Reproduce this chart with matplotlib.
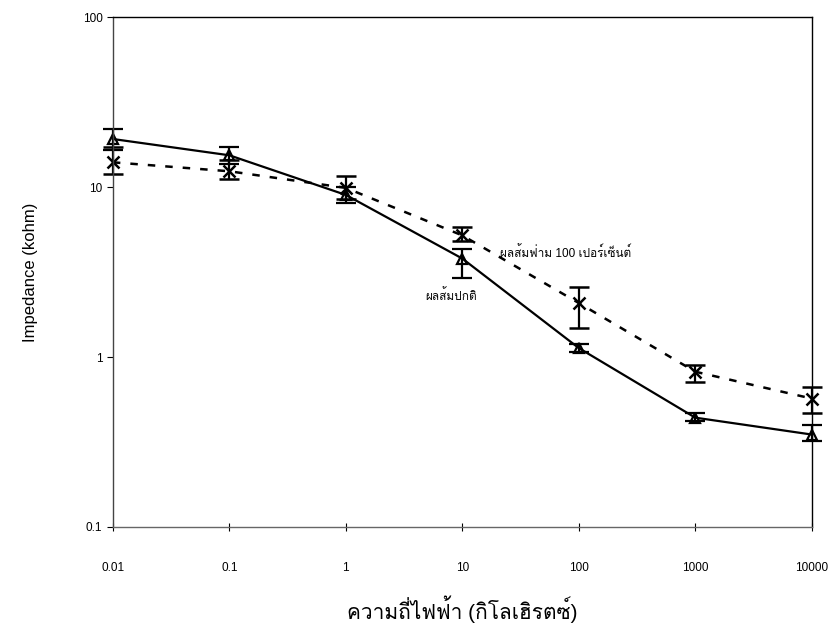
import numpy as np
import matplotlib
matplotlib.use('Agg')
import matplotlib.pyplot as plt
from matplotlib import font_manager
from matplotlib.ft2font import FT2Font

# frequency (kHz)
freq = [0.01, 0.1, 1, 10, 100, 1000, 10000]

# normal fruit
normal = [19.2, 15.4, 9.0, 3.8, 1.13, 0.44, 0.35]
normal_lo = [16.5, 13.6, 8.1, 2.9, 1.07, 0.42, 0.32]
normal_hi = [21.9, 17.2, 10.0, 4.3, 1.20, 0.47, 0.40]

# granulated fruit
gran = [14.0, 12.4, 9.9, 5.2, 2.08, 0.82, 0.57]
gran_lo = [11.9, 11.1, 8.5, 4.8, 1.48, 0.71, 0.47]
gran_hi = [17.2, 14.4, 11.6, 5.8, 2.60, 0.90, 0.67]

label_normal = 'ผลส้มปกติ'
label_gran = 'ผลส้มฟ่าม 100 เปอร์เซ็นต์'
xlabel = 'ความถี่ไฟฟ้า (กิโลเฮิรตซ์)'
ylabel = 'Impedance (kohm)'


def find_thai_font():
    # look for any installed font that has Thai glyphs
    for f in font_manager.fontManager.ttflist:
        try:
            cmap = FT2Font(f.fname).get_charmap()
        except Exception:
            continue
        if 0x0E01 in cmap and 0x0E2A in cmap:
            return f.name
    return None


thai = find_thai_font()
fams = ['DejaVu Sans'] if thai is None else ['Liberation Sans', thai, 'DejaVu Sans']
plt.rcParams['font.family'] = fams

fig = plt.figure(figsize=(8.3, 6.38), dpi=100)
ax = fig.add_axes([0.136, 0.174, 0.842, 0.799])

def err(v, lo, hi):
    v = np.array(v)
    return [v - np.array(lo), np.array(hi) - v]

for line in [
    ax.errorbar(freq, normal, yerr=err(normal, normal_lo, normal_hi), color='black',
                lw=1.6, marker='^', ms=7, mfc='none', mew=1.6, capsize=7,
                capthick=1.8, elinewidth=1.6),
    ax.errorbar(freq, gran, yerr=err(gran, gran_lo, gran_hi), color='black',
                lw=1.8, ls=(0, (3, 4)), marker='x', ms=8, mew=1.8, capsize=7,
                capthick=1.8, elinewidth=1.6),
]:
    for art in line.get_children():
        art.set_clip_on(False)

ax.set_xscale('log')
ax.set_yscale('log')
ax.set_xlim(0.01, 10000)
ax.set_ylim(0.1, 100)
ax.set_xticks(freq)
ax.set_xticklabels(['0.01', '0.1', '1', '10', '100', '1000', '10000'])
ax.set_yticks([0.1, 1, 10, 100])
ax.set_yticklabels(['0.1', '1', '10', '100'])
ax.minorticks_off()
ax.tick_params(axis='x', direction='inout', length=6, pad=22, labelsize=8.5)
ax.tick_params(axis='y', direction='out', length=4, labelsize=8.5)
for s in ax.spines.values():
    s.set_linewidth(1.0)
ax.spines['left'].set_color('#444444')
ax.spines['bottom'].set_color('#666666')

ax.text(21, 4.1, label_gran, fontsize=8.5, va='center')
ax.text(4.8, 2.3, label_normal, fontsize=8.5, va='center')

ax.set_ylabel(ylabel, fontsize=12, labelpad=32)
ax.set_xlabel(xlabel, fontsize=15, labelpad=16)

fig.savefig('out.png', dpi=100)
